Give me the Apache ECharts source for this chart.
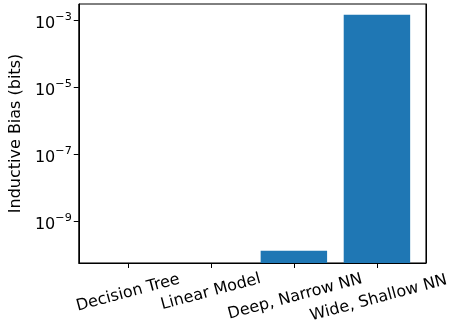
<!DOCTYPE html>
<html>
<head>
<meta charset="utf-8">
<script src="https://cdn.jsdelivr.net/npm/echarts@6/dist/echarts.min.js"></script>
<style>
html,body{margin:0;padding:0;background:#fff;}
#chart{width:451px;height:325px;}
</style>
</head>
<body>
<div id="chart"></div>
<script>
// Data
const categories = ['Decision Tree', 'Linear Model', 'Deep, Narrow NN', 'Wide, Shallow NN'];
const inductiveBias = [0, 0, 1.3e-10, 1.4e-3];
const yTickExponents = [-9, -7, -5, -3];
const xTickPositions = [0, 1, 2, 3];

const yExpMin = -10.25, yExpMax = -2.53;
const yMinValue = Math.pow(10, yExpMin), yMaxValue = Math.pow(10, yExpMax);
const barColor = '#1f77b4';
const font = 'DejaVu Sans';

const chart = echarts.init(document.getElementById('chart'), null, {renderer: 'canvas'});

const option = {
  animation: false,
  backgroundColor: '#fff',
  grid: {left: 74, right: 21, top: 4, bottom: 59, show: true, borderColor: '#000', borderWidth: 1, backgroundColor: 'transparent'},
  xAxis: [{
    type: 'value', min: -0.59, max: 3.59,
    axisLine: {show: true, onZero: false, lineStyle: {color: '#000', width: 1}},
    axisTick: {show: true, customValues: xTickPositions, length: 5, lineStyle: {color: '#000', width: 1}},
    splitLine: {show: false},
    axisLabel: {
      customValues: xTickPositions, rotate: 15, align: 'center', verticalAlign: 'middle', margin: 29,
      fontSize: 16, fontFamily: font, color: '#000', hideOverlap: false,
      formatter: function (v) { const i = Math.round(v); return '{l' + i + '|' + categories[i] + '}'; },
      rich: {
        l0: {fontSize: 16, fontFamily: font, color: '#000', padding: [2, 0, 0, 0]},
        l1: {fontSize: 16, fontFamily: font, color: '#000', padding: [0, 0, 0, 0]},
        l2: {fontSize: 16, fontFamily: font, color: '#000', padding: [10, 0, 0, 0]},
        l3: {fontSize: 16, fontFamily: font, color: '#000', padding: [13, 0, 0, 0]}
      }
    }
  }],
  yAxis: [{
    type: 'value', position: 'left', min: yExpMin, max: yExpMax,
    name: 'Inductive Bias (bits)', nameLocation: 'middle', nameGap: 48,
    nameTextStyle: {fontSize: 16, fontFamily: font, color: '#000'},
    axisLine: {show: true, onZero: false, lineStyle: {color: '#000', width: 1}},
    axisTick: {show: true, customValues: yTickExponents, length: 5, lineStyle: {color: '#000', width: 1}},
    splitLine: {show: false},
    axisLabel: {
      customValues: yTickExponents, margin: 7, color: '#000', fontFamily: font, fontSize: 16,
      padding: [4, 0, 0, 0],
      formatter: function (v) { return '{b|10}{s|\u2212' + Math.abs(Math.round(v)) + '}'; },
      rich: {
        b: {fontSize: 16, fontFamily: font, color: '#000', lineHeight: 20, verticalAlign: 'bottom'},
        s: {fontSize: 11.2, fontFamily: font, color: '#000', lineHeight: 11, verticalAlign: 'top'}
      }
    }
  }, {
    type: 'log', logBase: 10, position: 'right', min: yMinValue, max: yMaxValue,
    axisLine: {show: true, onZero: false, lineStyle: {color: '#000', width: 1}},
    axisTick: {show: false}, axisLabel: {show: false}, splitLine: {show: false}
  }],
  series: [{
    type: 'custom',
    xAxisIndex: 0, yAxisIndex: 1,
    encode: {x: 0, y: 1},
    clip: true,
    data: categories.map(function (c, i) { return [i, inductiveBias[i]]; }),
    renderItem: function (params, api) {
      const x = api.value(0), v = api.value(1);
      if (!(v > 0)) return {type: 'group', children: []};
      const p0 = api.coord([x - 0.4, v]);
      const p1 = api.coord([x + 0.4, yMinValue]);
      return {type: 'rect', shape: {x: p0[0], y: p0[1], width: p1[0] - p0[0], height: p1[1] - p0[1]}, style: {fill: barColor}};
    }
  }]
};
chart.setOption(option);
</script>
</body>
</html>
